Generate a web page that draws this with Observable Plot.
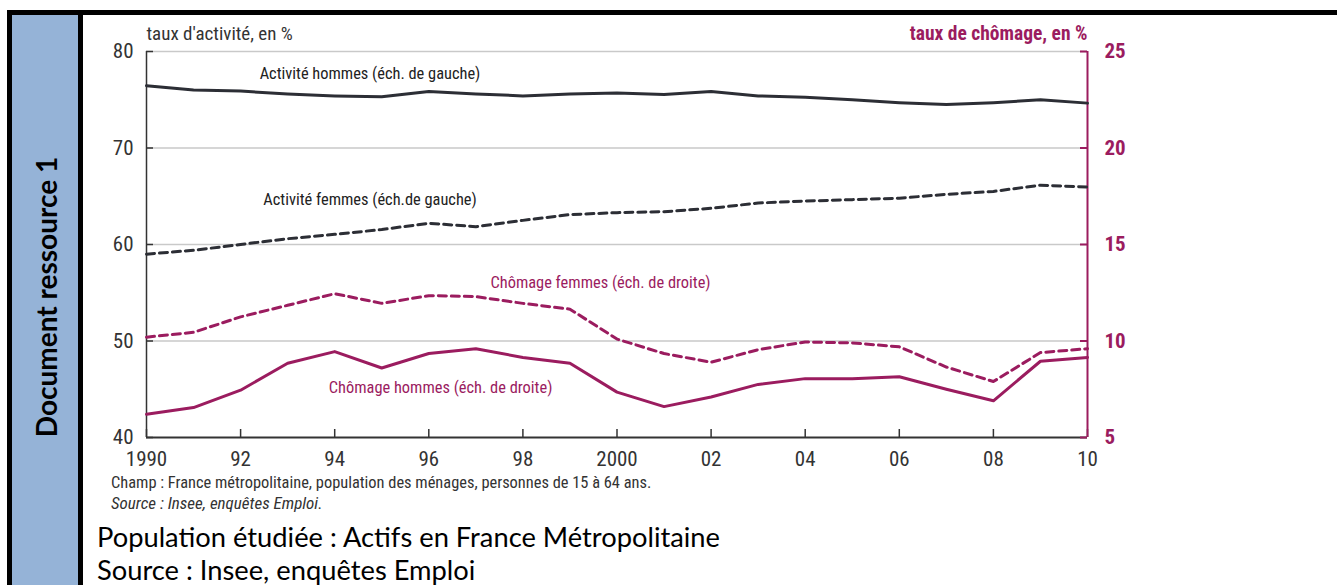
<!DOCTYPE html>
<html><head><meta charset="utf-8">
<script src="https://cdn.jsdelivr.net/npm/d3@7"></script>
<script src="https://cdn.jsdelivr.net/npm/@observablehq/plot@0.6"></script>
<style>
html,body{margin:0;padding:0;background:#fff;}
#page{position:relative;width:1337px;height:585px;overflow:hidden;background:#fff;}
.abs{position:absolute;}
.narrow{font-family:"Liberation Sans Narrow","Roboto Condensed","DejaVu Sans Condensed",sans-serif;font-stretch:condensed;}
.cal{font-family:Lato,"Open Sans",sans-serif;color:#000;line-height:1;}
</style></head>
<body><div id="page">
<div class="abs" style="left:7px;top:10px;width:1330px;height:5px;background:#000"></div>
<div class="abs" style="left:7px;top:10px;width:5px;height:575px;background:#000"></div>
<div class="abs" style="left:12px;top:15px;width:66px;height:570px;background:#95b3d7"></div>
<div class="abs" style="left:78px;top:10px;width:5px;height:575px;background:#000"></div>
<div class="abs cal" style="left:46px;top:297px;transform:translate(-50%,-50%) rotate(-90deg);white-space:nowrap;font-weight:bold;font-size:28px;">Document ressource 1</div>
<div id="chart" class="abs" style="left:83px;top:15px"></div>
<div class="abs narrow" style="left:111px;top:473px;font-size:16.4px;color:#333;white-space:nowrap">Champ : France métropolitaine, population des ménages, personnes de 15 à 64 ans.</div>
<div class="abs narrow" style="left:111px;top:493px;font-size:17px;color:#333;font-style:italic;white-space:nowrap">Source : Insee, enquêtes Emploi.</div>
<div class="abs cal" style="left:97px;top:523px;font-size:27.3px;white-space:nowrap">Population étudiée : Actifs en France Métropolitaine</div>
<div class="abs cal" style="left:97px;top:556px;font-size:27.3px;white-space:nowrap">Source : Insee, enquêtes Emploi</div>
</div>
<script>
const years = [1990,1991,1992,1993,1994,1995,1996,1997,1998,1999,2000,2001,2002,2003,2004,2005,2006,2007,2008,2009,2010];
const activiteHommes = [76.45,76.0,75.9,75.6,75.4,75.3,75.85,75.6,75.4,75.6,75.7,75.55,75.85,75.4,75.25,75.0,74.7,74.5,74.7,75.0,74.65];
const activiteFemmes = [59.0,59.4,60.0,60.6,61.05,61.55,62.2,61.85,62.5,63.1,63.3,63.4,63.75,64.3,64.5,64.65,64.8,65.2,65.5,66.15,65.95];
const chomageFemmes = [10.2,10.45,11.25,11.85,12.45,11.95,12.35,12.3,11.95,11.65,10.1,9.35,8.9,9.55,9.95,9.9,9.7,8.65,7.9,9.4,9.6];
const chomageHommes = [6.2,6.55,7.45,8.85,9.45,8.6,9.35,9.6,9.15,8.85,7.35,6.6,7.1,7.75,8.05,8.05,8.15,7.5,6.9,8.95,9.15];

const xDomain = [1990, 2010];
const xTicks = [1990,1992,1994,1996,1998,2000,2002,2004,2006,2008,2010];
const leftDomain = [40, 80];
const leftTicks = [40,50,60,70,80];
const rightDomain = [5, 25];
const gridTicks = [50,60,70,80];

const labelTexts = ["Activité hommes (éch. de gauche)","Activité femmes (éch.de gauche)","Chômage femmes (éch. de droite)","Chômage hommes (éch. de droite)"];
const labelYears = [1994.75,1994.75,1999.65,1996.25];
const labelValues = [77.7,64.65,13.0,7.6];
const labelAxis = ["left","left","right","right"];

const titleLeft = "taux d'activité, en %";
const titleRight = "taux de chômage, en %";

const MAG = "#9b1c5f";
const DARK = "#2c2e35";

const toLeft = v => leftDomain[0] + (v - rightDomain[0]) * (leftDomain[1]-leftDomain[0])/(rightDomain[1]-rightDomain[0]);
const toRight = v => rightDomain[0] + (v - leftDomain[0]) * (rightDomain[1]-rightDomain[0])/(leftDomain[1]-leftDomain[0]);

const rows = (arr, conv) => years.map((y,i)=>({year:y, v: conv ? conv(arr[i]) : arr[i]}));
const labels = labelTexts.map((t,i)=>({text:t, year:labelYears[i], v: labelAxis[i]==="right" ? toLeft(labelValues[i]) : labelValues[i], color: labelAxis[i]==="right" ? MAG : "#222"}));

const W = 1120, H = 460, ML = 63, MR = 116, MT = 36, MB = 38;
const plotW = W - ML - MR, plotH = H - MT - MB;

const chart = Plot.plot({
  width: W, height: H,
  marginLeft: ML, marginRight: MR, marginTop: MT, marginBottom: MB,
  style: {fontFamily: '"Liberation Sans Narrow","Roboto Condensed","DejaVu Sans Condensed",sans-serif', fontSize: "21px", color: "#333", background: "white", overflow: "visible"},
  x: {domain: xDomain},
  y: {domain: leftDomain},
  marks: [
    Plot.ruleY(gridTicks, {stroke: "#c9c9c9", strokeWidth: 1.5}),
    Plot.ruleX([xDomain[0]], {stroke: "#333", strokeWidth: 1.5}),
    Plot.ruleY([leftDomain[0]], {stroke: "#333", strokeWidth: 2}),
    Plot.tickY(leftTicks, {insetRight: plotW - 7, stroke: "#333", strokeWidth: 1.5}),
    Plot.tickX(xTicks, {insetTop: plotH - 8, stroke: "#333", strokeWidth: 1.5}),
    Plot.ruleX([xDomain[1]], {stroke: MAG, strokeWidth: 2}),
    Plot.tickY(leftTicks, {insetLeft: plotW - 7, stroke: MAG, strokeWidth: 2}),
    Plot.axisY({anchor: "left", ticks: leftTicks, tickSize: 0, tickPadding: 13, label: null, fill: "#333"}),
    Plot.axisY({anchor: "right", ticks: leftTicks, tickSize: 0, tickPadding: 17, label: null, tickFormat: d => String(toRight(d)), fill: MAG, fontWeight: "bold"}),
    Plot.axisX({ticks: xTicks, tickSize: 0, tickPadding: 14, label: null, tickFormat: d => (d === 1990 || d === 2000) ? String(d) : String(d).slice(2), fill: "#333"}),
    Plot.line(rows(activiteHommes), {x: "year", y: "v", stroke: DARK, strokeWidth: 3}),
    Plot.line(rows(activiteFemmes), {x: "year", y: "v", stroke: DARK, strokeWidth: 3, strokeDasharray: "8,5"}),
    Plot.line(rows(chomageFemmes, toLeft), {x: "year", y: "v", stroke: MAG, strokeWidth: 3, strokeDasharray: "8,5"}),
    Plot.line(rows(chomageHommes, toLeft), {x: "year", y: "v", stroke: MAG, strokeWidth: 3}),
    Plot.text(labels, {x: "year", y: "v", text: "text", fill: "color", fontSize: 16.4}),
    Plot.text([titleLeft], {frameAnchor: "top-left", textAnchor: "start", dy: -25, fontSize: 19, fill: "#333"}),
    Plot.text([titleRight], {frameAnchor: "top-right", textAnchor: "end", dy: -25, fontSize: 19.5, fill: MAG, fontWeight: "bold"})
  ]
});
document.getElementById("chart").appendChild(chart);
</script>
</body></html>
